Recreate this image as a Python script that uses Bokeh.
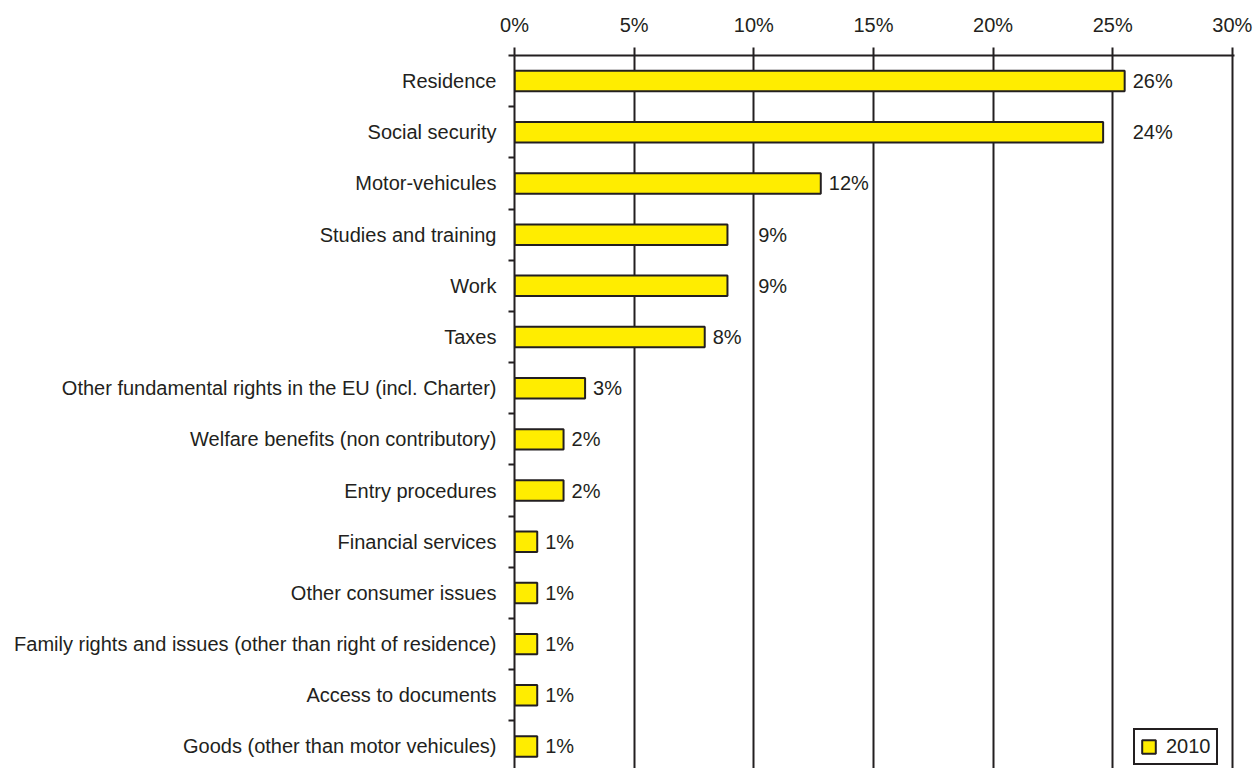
from bokeh.plotting import figure
from bokeh.models import Range1d, FixedTicker, ColumnDataSource, Legend, LegendItem
from bokeh.core.properties import value
from bokeh.embed import file_html
from bokeh.resources import INLINE

categories = [
    "Residence",
    "Social security",
    "Motor-vehicules",
    "Studies and training",
    "Work",
    "Taxes",
    "Other fundamental rights in the EU (incl. Charter)",
    "Welfare benefits (non contributory)",
    "Entry procedures",
    "Financial services",
    "Other consumer issues",
    "Family rights and issues (other than right of residence)",
    "Access to documents",
    "Goods (other than motor vehicules)",
]
values_2010 = [25.5, 24.6, 12.8, 8.9, 8.9, 7.95, 2.95, 2.05, 2.05, 0.95, 0.95, 0.95, 0.95, 0.95]
value_labels = ["26%", "24%", "12%", "9%", "9%", "8%", "3%", "2%", "2%", "1%", "1%", "1%", "1%", "1%"]
label_anchor = [25.5, 25.5, 12.8, 9.85, 9.85, 7.95, 2.95, 2.05, 2.05, 0.95, 0.95, 0.95, 0.95, 0.95]
x_ticks = [0, 5, 10, 15, 20, 25, 30]
x_tick_labels = ["0%", "5%", "10%", "15%", "20%", "25%", "30%"]
series_name = "2010"

INK = "#231f20"
YELLOW = "#FFED00"
FONT = "Liberation Sans"
FS = "20px"

n = len(categories)
ypos = [n - 1 - i for i in range(n)]

src = ColumnDataSource(dict(y=ypos, v=values_2010, cat=categories))
lsrc = ColumnDataSource(dict(y=ypos, x=label_anchor, t=value_labels))

p = figure(width=1253, height=768, output_backend="svg", toolbar_location=None,
           x_range=Range1d(0, 30.09), y_range=Range1d(-0.43, n - 0.5),
           x_axis_location="above", y_axis_location="left",
           min_border_left=514, min_border_right=19, min_border_top=55, min_border_bottom=0)
p.outline_line_color = None
p.background_fill_color = "white"
p.border_fill_color = "white"

r = p.hbar(y="y", right="v", left=0, height=0.4, source=src,
           fill_color=YELLOW, line_color=INK, line_width=2)

p.text(x="x", y="y", text="t", source=lsrc, x_offset=8, text_baseline="middle",
       text_align="left", text_font=value(FONT), text_font_size=FS, text_color=INK)

# top axis
xa = p.xaxis[0]
xa.ticker = FixedTicker(ticks=x_ticks)
xa.major_label_overrides = {t: l for t, l in zip(x_ticks, x_tick_labels)}
xa.axis_line_width = 2
xa.axis_line_color = INK
xa.major_tick_line_width = 2
xa.major_tick_line_color = INK
xa.major_tick_out = 8
xa.major_tick_in = 0
xa.minor_tick_line_color = None
xa.major_label_standoff = 12
xa.major_label_text_font = FONT
xa.major_label_text_font_size = FS
xa.major_label_text_color = INK

# left axis
ya = p.yaxis[0]
ya.ticker = FixedTicker(ticks=ypos, minor_ticks=[k + 0.5 for k in range(-1, n)])
ya.major_label_overrides = {y: c for y, c in zip(ypos, categories)}
ya.axis_line_width = 2
ya.axis_line_color = INK
ya.major_tick_line_color = None
ya.major_tick_out = 0
ya.major_tick_in = 0
ya.minor_tick_line_color = INK
ya.minor_tick_line_width = 2
ya.minor_tick_out = 6
ya.minor_tick_in = 0
ya.major_label_standoff = 12
ya.major_label_text_font = FONT
ya.major_label_text_font_size = FS
ya.major_label_text_color = INK

p.xgrid.ticker = FixedTicker(ticks=x_ticks)
p.xgrid.grid_line_color = INK
p.xgrid.grid_line_width = 2
p.ygrid.grid_line_color = None

legend = Legend(items=[LegendItem(label=series_name, renderers=[r])],
                location=(619, 3), orientation="vertical")
legend.border_line_color = INK
legend.border_line_width = 2
legend.border_line_alpha = 1
legend.background_fill_color = "white"
legend.background_fill_alpha = 1
legend.label_text_font = FONT
legend.label_text_font_size = FS
legend.label_text_color = INK
legend.label_height = 20
legend.glyph_width = 17
legend.glyph_height = 17
legend.padding = 5
legend.margin = 0
legend.spacing = 0
legend.label_standoff = 9
p.add_layout(legend, "center")

open("out.html", "w").write(file_html(p, INLINE))
